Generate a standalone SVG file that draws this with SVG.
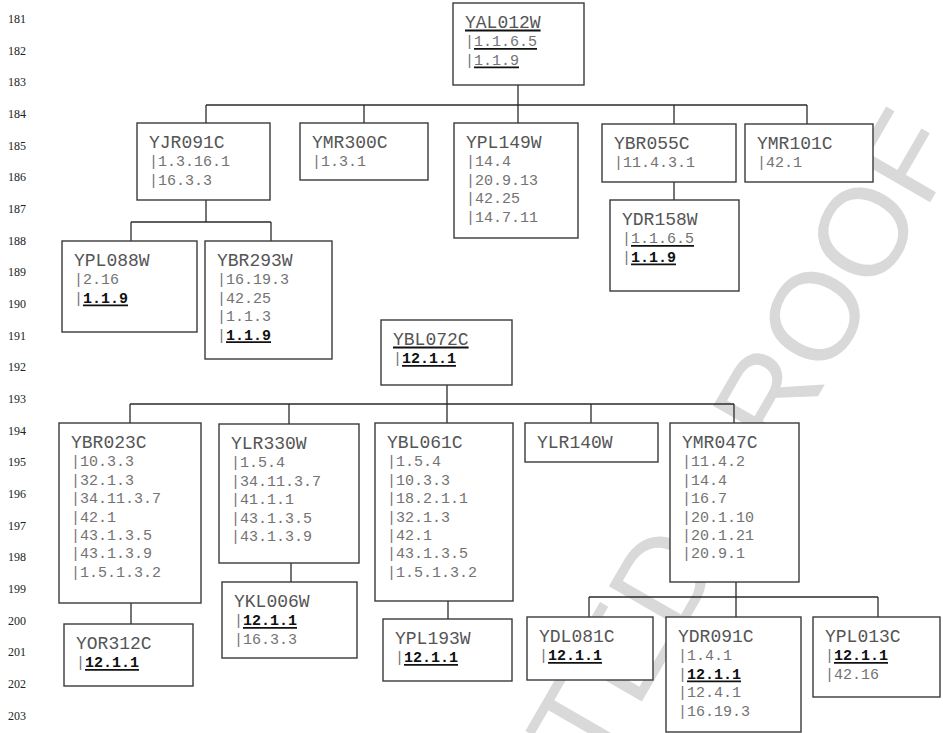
<svg xmlns="http://www.w3.org/2000/svg" width="943" height="733" viewBox="0 0 943 733">
<style>
.box{fill:#fff;stroke:#3a3a3a;stroke-width:1.4}
.conn line{stroke:#2a2a2a;stroke-width:1.3}
.t{font-family:"Liberation Mono","Courier New",monospace;font-size:18px;fill:#555}
.s{font-size:15px;fill:#737373}
.b{font-weight:bold;fill:#111}
.ul{stroke:#111;stroke-width:1.8}
.ln{font-family:"Liberation Serif","Times New Roman",serif;font-size:12px;fill:#222}
.wm{font-family:"Liberation Sans",Arial,sans-serif;font-size:125px;fill:#d9d9d9}
</style>
<rect width="943" height="733" fill="#fff"/>
<g id="watermark"><text class="wm" transform="translate(598.5,776.6) rotate(-60)">TED PROOF</text></g>
<g id="line-numbers">
<text class="ln" x="8" y="23">181</text><text class="ln" x="8" y="54.7">182</text><text class="ln" x="8" y="86.3">183</text><text class="ln" x="8" y="118">184</text><text class="ln" x="8" y="149.7">185</text><text class="ln" x="8" y="181.3">186</text><text class="ln" x="8" y="213">187</text><text class="ln" x="8" y="244.7">188</text><text class="ln" x="8" y="276.4">189</text><text class="ln" x="8" y="308">190</text><text class="ln" x="8" y="339.7">191</text><text class="ln" x="8" y="371.4">192</text><text class="ln" x="8" y="403">193</text><text class="ln" x="8" y="434.7">194</text><text class="ln" x="8" y="466.4">195</text><text class="ln" x="8" y="498">196</text><text class="ln" x="8" y="529.7">197</text><text class="ln" x="8" y="561.4">198</text><text class="ln" x="8" y="593.1">199</text><text class="ln" x="8" y="624.7">200</text><text class="ln" x="8" y="656.4">201</text><text class="ln" x="8" y="688.1">202</text><text class="ln" x="8" y="719.7">203</text>
</g>
<g id="connectors" class="conn">
<line x1="518" y1="85" x2="518" y2="105"/><line x1="206" y1="105" x2="807" y2="105"/>
<line x1="206" y1="105" x2="206" y2="123"/><line x1="364" y1="105" x2="364" y2="123"/><line x1="518" y1="105" x2="518" y2="123"/><line x1="674" y1="105" x2="674" y2="124"/><line x1="807" y1="105" x2="807" y2="124"/>
<line x1="206" y1="200" x2="206" y2="222"/><line x1="131" y1="222" x2="271" y2="222"/><line x1="131" y1="222" x2="131" y2="241"/><line x1="271" y1="222" x2="271" y2="241"/>
<line x1="674" y1="182" x2="674" y2="200"/>
<line x1="447" y1="385" x2="447" y2="404"/><line x1="130" y1="404" x2="734" y2="404"/>
<line x1="130" y1="404" x2="130" y2="423"/><line x1="289" y1="404" x2="289" y2="424"/><line x1="447" y1="404" x2="447" y2="423"/><line x1="591" y1="404" x2="591" y2="423"/><line x1="734" y1="404" x2="734" y2="423"/>
<line x1="131" y1="603" x2="131" y2="624"/><line x1="291" y1="563" x2="291" y2="582"/><line x1="448" y1="601" x2="448" y2="619"/>
<line x1="736" y1="582" x2="736" y2="597"/><line x1="589" y1="597" x2="878" y2="597"/>
<line x1="589" y1="597" x2="589" y2="617"/><line x1="736" y1="597" x2="736" y2="617"/><line x1="878" y1="597" x2="878" y2="617"/>
</g>
<g id="YAL012W"><rect class="box" x="453" y="3" width="131" height="82"/>
<text class="t" x="465" y="28">YAL012W</text><text class="t s" x="465" y="46.4">|1.1.6.5</text><text class="t s" x="465" y="64.8">|1.1.9</text>
<line class="ul" x1="465" y1="30.5" x2="540.6" y2="30.5"/><line class="ul" x1="474" y1="48.9" x2="537" y2="48.9"/><line class="ul" x1="474" y1="67.3" x2="519" y2="67.3"/></g>
<g id="YJR091C"><rect class="box" x="137" y="123" width="133" height="77"/>
<text class="t" x="149" y="148">YJR091C</text><text class="t s" x="149" y="166.4">|1.3.16.1</text><text class="t s" x="149" y="184.8">|16.3.3</text></g>
<g id="YMR300C"><rect class="box" x="300" y="123" width="128" height="57"/>
<text class="t" x="312" y="148">YMR300C</text><text class="t s" x="312" y="166.4">|1.3.1</text></g>
<g id="YPL149W"><rect class="box" x="454" y="123" width="124" height="115"/>
<text class="t" x="466" y="148">YPL149W</text><text class="t s" x="466" y="166.4">|14.4</text><text class="t s" x="466" y="184.8">|20.9.13</text><text class="t s" x="466" y="203.2">|42.25</text><text class="t s" x="466" y="221.6">|14.7.11</text></g>
<g id="YBR055C"><rect class="box" x="602" y="124" width="134" height="58"/>
<text class="t" x="614" y="149">YBR055C</text><text class="t s" x="614" y="167.4">|11.4.3.1</text></g>
<g id="YMR101C"><rect class="box" x="745" y="124" width="128" height="58"/>
<text class="t" x="757" y="149">YMR101C</text><text class="t s" x="757" y="167.4">|42.1</text></g>
<g id="YDR158W"><rect class="box" x="610" y="200" width="129" height="91"/>
<text class="t" x="622" y="225">YDR158W</text><text class="t s" x="622" y="243.4">|1.1.6.5</text><text class="t s" x="622" y="261.8">|<tspan class="b">1.1.9</tspan></text>
<line class="ul" x1="631" y1="245.9" x2="694" y2="245.9"/><line class="ul" x1="631" y1="264.3" x2="676" y2="264.3"/></g>
<g id="YPL088W"><rect class="box" x="62" y="241" width="135" height="91"/>
<text class="t" x="74" y="266">YPL088W</text><text class="t s" x="74" y="284.4">|2.16</text><text class="t s" x="74" y="302.8">|<tspan class="b">1.1.9</tspan></text>
<line class="ul" x1="83" y1="305.3" x2="128" y2="305.3"/></g>
<g id="YBR293W"><rect class="box" x="205" y="241" width="127" height="118"/>
<text class="t" x="217" y="266">YBR293W</text><text class="t s" x="217" y="284.4">|16.19.3</text><text class="t s" x="217" y="302.8">|42.25</text><text class="t s" x="217" y="321.2">|1.1.3</text><text class="t s" x="217" y="339.6">|<tspan class="b">1.1.9</tspan></text>
<line class="ul" x1="226" y1="342.1" x2="271" y2="342.1"/></g>
<g id="YBL072C"><rect class="box" x="381" y="320" width="131" height="65"/>
<text class="t" x="393" y="345">YBL072C</text><text class="t s" x="393" y="363.4">|<tspan class="b">12.1.1</tspan></text>
<line class="ul" x1="393" y1="347.5" x2="468.6" y2="347.5"/><line class="ul" x1="402" y1="365.9" x2="456" y2="365.9"/></g>
<g id="YBR023C"><rect class="box" x="59" y="423" width="142" height="180"/>
<text class="t" x="71" y="448">YBR023C</text><text class="t s" x="71" y="466.4">|10.3.3</text><text class="t s" x="71" y="484.8">|32.1.3</text><text class="t s" x="71" y="503.2">|34.11.3.7</text><text class="t s" x="71" y="521.6">|42.1</text><text class="t s" x="71" y="540">|43.1.3.5</text><text class="t s" x="71" y="558.4">|43.1.3.9</text><text class="t s" x="71" y="576.8">|1.5.1.3.2</text></g>
<g id="YLR330W"><rect class="box" x="219" y="424" width="140" height="139"/>
<text class="t" x="231" y="449">YLR330W</text><text class="t s" x="231" y="467.4">|1.5.4</text><text class="t s" x="231" y="485.8">|34.11.3.7</text><text class="t s" x="231" y="504.2">|41.1.1</text><text class="t s" x="231" y="522.6">|43.1.3.5</text><text class="t s" x="231" y="541">|43.1.3.9</text></g>
<g id="YBL061C"><rect class="box" x="375" y="423" width="138" height="178"/>
<text class="t" x="387" y="448">YBL061C</text><text class="t s" x="387" y="466.4">|1.5.4</text><text class="t s" x="387" y="484.8">|10.3.3</text><text class="t s" x="387" y="503.2">|18.2.1.1</text><text class="t s" x="387" y="521.6">|32.1.3</text><text class="t s" x="387" y="540">|42.1</text><text class="t s" x="387" y="558.4">|43.1.3.5</text><text class="t s" x="387" y="576.8">|1.5.1.3.2</text></g>
<g id="YLR140W"><rect class="box" x="525" y="423" width="133" height="39"/>
<text class="t" x="537" y="448">YLR140W</text></g>
<g id="YMR047C"><rect class="box" x="670" y="423" width="129" height="159"/>
<text class="t" x="682" y="448">YMR047C</text><text class="t s" x="682" y="466.4">|11.4.2</text><text class="t s" x="682" y="484.8">|14.4</text><text class="t s" x="682" y="503.2">|16.7</text><text class="t s" x="682" y="521.6">|20.1.10</text><text class="t s" x="682" y="540">|20.1.21</text><text class="t s" x="682" y="558.4">|20.9.1</text></g>
<g id="YOR312C"><rect class="box" x="64" y="624" width="129" height="62"/>
<text class="t" x="76" y="649">YOR312C</text><text class="t s" x="76" y="667.4">|<tspan class="b">12.1.1</tspan></text>
<line class="ul" x1="85" y1="669.9" x2="139" y2="669.9"/></g>
<g id="YKL006W"><rect class="box" x="222" y="582" width="135" height="76"/>
<text class="t" x="234" y="607">YKL006W</text><text class="t s" x="234" y="625.4">|<tspan class="b">12.1.1</tspan></text><text class="t s" x="234" y="643.8">|16.3.3</text>
<line class="ul" x1="243" y1="627.9" x2="297" y2="627.9"/></g>
<g id="YPL193W"><rect class="box" x="383" y="619" width="129" height="62"/>
<text class="t" x="395" y="644">YPL193W</text><text class="t s" x="395" y="662.4">|<tspan class="b">12.1.1</tspan></text>
<line class="ul" x1="404" y1="664.9" x2="458" y2="664.9"/></g>
<g id="YDL081C"><rect class="box" x="527" y="617" width="126" height="63"/>
<text class="t" x="539" y="642">YDL081C</text><text class="t s" x="539" y="660.4">|<tspan class="b">12.1.1</tspan></text>
<line class="ul" x1="548" y1="662.9" x2="602" y2="662.9"/></g>
<g id="YDR091C"><rect class="box" x="666" y="617" width="135" height="115"/>
<text class="t" x="678" y="642">YDR091C</text><text class="t s" x="678" y="660.4">|1.4.1</text><text class="t s" x="678" y="678.8">|<tspan class="b">12.1.1</tspan></text><text class="t s" x="678" y="697.2">|12.4.1</text><text class="t s" x="678" y="715.6">|16.19.3</text>
<line class="ul" x1="687" y1="681.3" x2="741" y2="681.3"/></g>
<g id="YPL013C"><rect class="box" x="813" y="617" width="127" height="80"/>
<text class="t" x="825" y="642">YPL013C</text><text class="t s" x="825" y="660.4">|<tspan class="b">12.1.1</tspan></text><text class="t s" x="825" y="678.8">|42.16</text>
<line class="ul" x1="834" y1="662.9" x2="888" y2="662.9"/></g>
</svg>
